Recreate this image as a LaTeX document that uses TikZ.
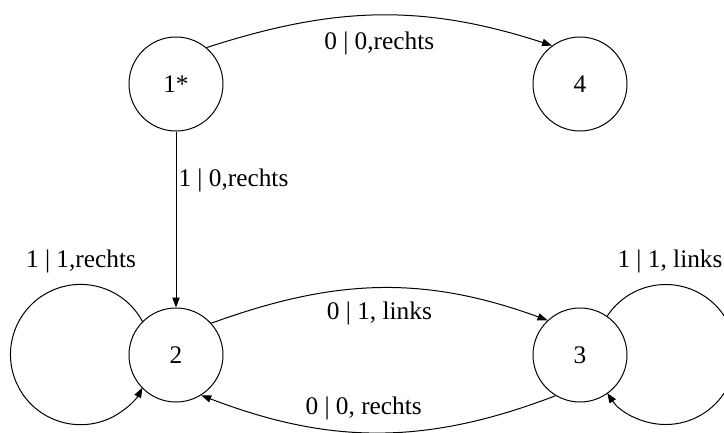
\documentclass[tikz,border=0pt]{standalone}
\usepackage{fontspec}
\setmainfont{Liberation Serif}
\usepackage{tikz}
\usetikzlibrary{positioning,arrows.meta}

\begin{document}
\begin{tikzpicture}[state/.style={circle,draw,line width=0.75pt,minimum size=70.5pt,inner sep=0pt},
	lbl/.style={inner sep=0pt},
	tr/.style={-{Triangle[length=7.5pt,width=5.5pt]},line width=0.75pt},
	every node/.style={font=\fontsize{19}{22}\selectfont},
	node distance=303pt and 203.25pt, on grid]
				\clip (-132pt,63pt) rectangle (411pt,-261pt);
				\useasboundingbox (-132pt,63pt) rectangle (411pt,-261pt);
				\node[state] (n1) at (0,0) {1*};
				\node[state] (n4) [right=303pt of n1] {4};
				\node[state] (n2) [below=203.25pt of n1] {2};
				\node[state] (n3) [right=303pt of n2] {3};
				
				\draw[tr] (n1.50) to[out=18,in=162] node[lbl,midway,below=12.5pt] {0 | 0,rechts} (n4.126);
				\draw[tr] (n1) -- node[lbl,pos=0.28,right=1.5pt] {1 | 0,rechts} (n2);
				\draw[tr] (n2.42) to[out=20,in=160] node[lbl,midway,below=10pt] {0 | 1, links} (n3.133);
				\draw[tr] (n3.239) to[out=201,in=339] node[lbl,midway,above=9.5pt,xshift=-11pt] {0 | 0, rechts} (n2.-58);
				% loops
				\draw[tr] (n2.135) arc[start angle=28.2,end angle=331.8,radius=52.6pt];
				\draw[tr] (n3.55) arc[start angle=146.7,end angle=-146.7,radius=52.5pt];
				\node[lbl] (l2) [above left=70.5pt and 71.25pt of n2] {1 | 1,rechts};
				\node[lbl] (l3) [above right=70.5pt and 67.5pt of n3] {1 | 1, links};
			\end{tikzpicture}
\end{document}
